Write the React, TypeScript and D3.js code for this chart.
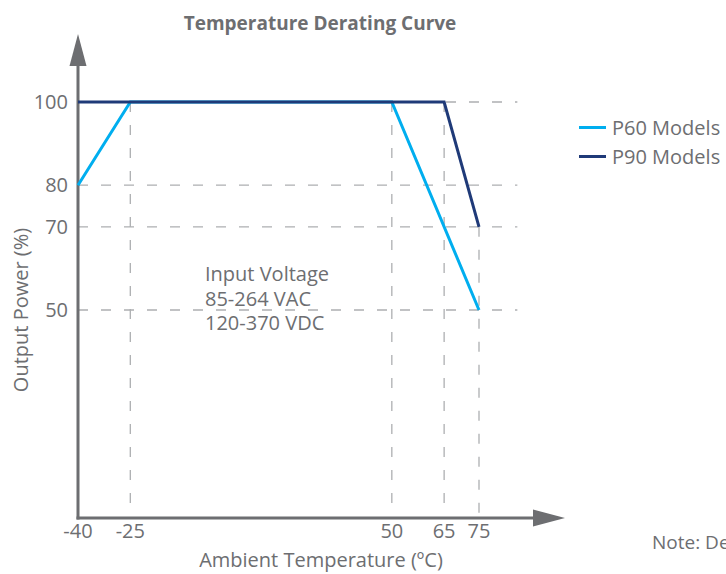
import React from 'react';
import * as d3 from 'd3';

// data
const temps = [-40, -25, 50, 65, 75];
const powerTicks = [100, 80, 70, 50];
const p60Temps = [-40, -25, 50, 75];
const p60Power = [80, 100, 100, 50];
const p90Temps = [-40, 65, 75];
const p90Power = [100, 100, 70];
const seriesNames = ['P60 Models', 'P90 Models'];
const noteLines = ['Input Voltage', '85-264 VAC', '120-370 VDC'];

const COLOR = {
  AXIS: '#6d6e71',
  TEXT: '#6d6e71',
  GRID: '#adafb1',
  P60: '#00aeef',
  P90: '#1f3a78',
};

const FONT = '"Open Sans", sans-serif';

interface IPoint {
  t: number;
  p: number;
}

const App = () => {
  const width = 726;
  const height = 574;

  const x = d3.scaleLinear().domain([-40, 75]).range([78, 479]);
  const y = d3.scaleLinear().domain([0, 100]).range([518, 102]);

  const p60: IPoint[] = p60Temps.map((t, i) => ({ t, p: p60Power[i] }));
  const p90: IPoint[] = p90Temps.map((t, i) => ({ t, p: p90Power[i] }));

  const line = d3
    .line<IPoint>()
    .x((d) => x(d.t))
    .y((d) => y(d.p));

  // highest curve value at a temperature -> top of vertical guide
  const topAt = (t: number) => {
    const vals: number[] = [];
    [p60, p90].forEach((s) => s.forEach((d) => d.t === t && vals.push(d.p)));
    return d3.max(vals) as number;
  };

  const gridEnd = x(86);
  const axisY = y(0);
  const x0 = x(-40);
  const yTip = 34;
  const xTip = 565;
  const head = 32;

  return (
    <svg
      width={width}
      height={height}
      style={{ position: 'absolute', left: 0, top: 0, fontFamily: FONT, overflow: 'hidden' }}
    >
      <rect width={width} height={height} fill='white' />

      <text x={320} y={30} textAnchor='middle' fontSize={19} fontWeight={700} fill={COLOR.TEXT}>
        Temperature Derating Curve
      </text>

      {/* grid */}
      <g stroke={COLOR.GRID} strokeWidth={1.3} strokeDasharray='10 13'>
        {powerTicks.map((p) => (
          <line key={'h' + p} x1={x0} x2={gridEnd} y1={y(p)} y2={y(p)} />
        ))}
        {temps.slice(1).map((t) => (
          <line key={'v' + t} x1={x(t)} x2={x(t)} y1={y(topAt(t))} y2={axisY - 3} />
        ))}
      </g>

      {/* axes */}
      <g stroke={COLOR.AXIS} strokeWidth={3}>
        <line x1={x0} x2={x0} y1={axisY + 1.5} y2={yTip + head - 2} />
        <line x1={x0 - 1.5} x2={xTip - head + 2} y1={axisY} y2={axisY} />
      </g>
      <path
        d={`M${x0 - 8.5},${yTip + head}L${x0},${yTip}L${x0 + 8.5},${yTip + head}Z`}
        fill={COLOR.AXIS}
      />
      <path
        d={`M${xTip - head},${axisY - 8.5}L${xTip},${axisY}L${xTip - head},${axisY + 8.5}Z`}
        fill={COLOR.AXIS}
      />

      {/* tick labels */}
      {powerTicks.map((p) => (
        <text key={'yl' + p} x={x0 - 10} y={y(p)} dy='0.36em' textAnchor='end' fontSize={20} fill={COLOR.TEXT}>
          {p}
        </text>
      ))}
      {temps.map((t) => (
        <text key={'xl' + t} x={x(t)} y={axisY + 20} textAnchor='middle' fontSize={20} fill={COLOR.TEXT}>
          {t}
        </text>
      ))}

      <text x={321} y={567} textAnchor='middle' fontSize={20} fill={COLOR.TEXT}>
        Ambient Temperature (ºC)
      </text>
      <text
        transform={`translate(28,310) rotate(-90)`}
        textAnchor='middle'
        fontSize={20}
        fill={COLOR.TEXT}
      >
        Output Power (%)
      </text>

      {/* curves */}
      <path d={line(p60) as string} fill='none' stroke={COLOR.P60} strokeWidth={3} />
      <path d={line(p90) as string} fill='none' stroke={COLOR.P90} strokeWidth={3} />

      {/* annotation */}
      {noteLines.map((s, i) => (
        <text key={s} x={205} y={281 + i * 24.6} fontSize={20} fill={COLOR.TEXT}>
          {s}
        </text>
      ))}

      {/* legend */}
      {seriesNames.map((s, i) => (
        <g key={s} transform={`translate(579,${127.5 + i * 29})`}>
          <line x1={0} x2={27} y1={0} y2={0} stroke={i === 0 ? COLOR.P60 : COLOR.P90} strokeWidth={3} />
          <text x={33} y={0} dy='0.36em' fontSize={20} fill={COLOR.TEXT}>
            {s}
          </text>
        </g>
      ))}

      <text x={652} y={549} fontSize={19} fill={COLOR.TEXT}>
        Note: Derating curve applies to all models
      </text>
    </svg>
  );
};

export default App;
